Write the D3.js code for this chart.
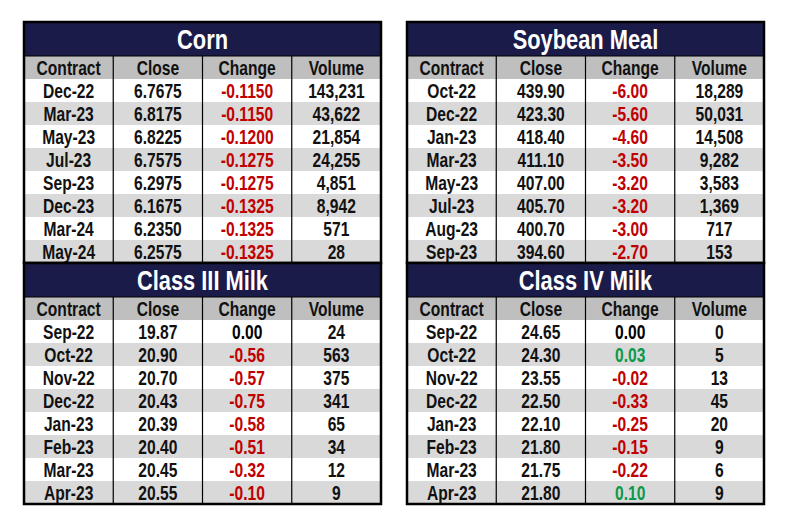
<!DOCTYPE html>
<html>
<head>
<meta charset="utf-8">
<script src="https://d3js.org/d3.v7.min.js"></script>
<style>
  body { margin: 0; background: white; }
  svg text { font-family: "Liberation Sans", Arial, sans-serif; font-weight: bold; }
</style>
</head>
<body>
<svg id="chart" width="790" height="528"></svg>
<script>
// column headers shared by all four tables
var headers = ["Contract", "Close", "Change", "Volume"];

// Corn
var cornTitle = "Corn";
var cornContracts = ["Dec-22", "Mar-23", "May-23", "Jul-23", "Sep-23", "Dec-23", "Mar-24", "May-24"];
var cornClose = ["6.7675", "6.8175", "6.8225", "6.7575", "6.2975", "6.1675", "6.2350", "6.2575"];
var cornChange = ["-0.1150", "-0.1150", "-0.1200", "-0.1275", "-0.1275", "-0.1325", "-0.1325", "-0.1325"];
var cornVolume = ["143,231", "43,622", "21,854", "24,255", "4,851", "8,942", "571", "28"];

// Soybean Meal
var mealTitle = "Soybean Meal";
var mealContracts = ["Oct-22", "Dec-22", "Jan-23", "Mar-23", "May-23", "Jul-23", "Aug-23", "Sep-23"];
var mealClose = ["439.90", "423.30", "418.40", "411.10", "407.00", "405.70", "400.70", "394.60"];
var mealChange = ["-6.00", "-5.60", "-4.60", "-3.50", "-3.20", "-3.20", "-3.00", "-2.70"];
var mealVolume = ["18,289", "50,031", "14,508", "9,282", "3,583", "1,369", "717", "153"];

// Class III Milk
var milk3Title = "Class III Milk";
var milk3Contracts = ["Sep-22", "Oct-22", "Nov-22", "Dec-22", "Jan-23", "Feb-23", "Mar-23", "Apr-23"];
var milk3Close = ["19.87", "20.90", "20.70", "20.43", "20.39", "20.40", "20.45", "20.55"];
var milk3Change = ["0.00", "-0.56", "-0.57", "-0.75", "-0.58", "-0.51", "-0.32", "-0.10"];
var milk3Volume = ["24", "563", "375", "341", "65", "34", "12", "9"];

// Class IV Milk
var milk4Title = "Class IV Milk";
var milk4Contracts = ["Sep-22", "Oct-22", "Nov-22", "Dec-22", "Jan-23", "Feb-23", "Mar-23", "Apr-23"];
var milk4Close = ["24.65", "24.30", "23.55", "22.50", "22.10", "21.80", "21.75", "21.80"];
var milk4Change = ["0.00", "0.03", "-0.02", "-0.33", "-0.25", "-0.15", "-0.22", "0.10"];
var milk4Volume = ["0", "5", "13", "45", "20", "9", "6", "9"];

var svg = d3.select("#chart");
var navy = "#1b1b49";
var headGray = "#bfbfbf";
var stripe = "#d9d9d9";
var squeeze = 0.78; // condensed look

function changeColor(v) {
  var n = parseFloat(v);
  if (n < 0) return "#c00000";
  if (n > 0) return "#0a9a4a";
  return "black";
}

function place(cx, cy) {
  return "translate(" + cx + "," + cy + ") scale(" + squeeze + ",1)";
}

function drawTable(left, top, title, contracts, closes, changes, volumes) {
  var width = 357, titleH = 34, headH = 23, rowH = 23;
  var g = svg.append("g");
  var x = d3.scaleBand().domain(headers).range([left, left + width]);
  var y = d3.scaleBand().domain(d3.range(contracts.length))
    .range([top + titleH + headH, top + titleH + headH + rowH * contracts.length]);
  var bottom = y.range()[1];

  // title band
  g.append("rect").attr("x", left).attr("y", top).attr("width", width).attr("height", titleH)
    .attr("fill", navy);
  g.append("text").text(title)
    .attr("transform", place(left + width / 2, top + titleH / 2 + 10))
    .attr("text-anchor", "middle").attr("fill", "white").style("font-size", "28px");

  // header row
  g.append("rect").attr("x", left).attr("y", top + titleH).attr("width", width).attr("height", headH)
    .attr("fill", headGray);
  g.selectAll(".hd").data(headers).enter().append("text")
    .attr("transform", function(d) { return place(x(d) + x.bandwidth() / 2, top + titleH + headH / 2 + 7.5); })
    .attr("text-anchor", "middle").style("font-size", "20px").attr("fill", "#111")
    .text(function(d) { return d; });

  // striped rows
  var rows = contracts.map(function(c, i) {
    return [c, closes[i], changes[i], volumes[i]];
  });
  var rg = g.selectAll(".row").data(rows).enter().append("g");
  rg.append("rect")
    .attr("x", left).attr("y", function(d, i) { return y(i); })
    .attr("width", width).attr("height", y.bandwidth())
    .attr("fill", function(d, i) { return i % 2 ? stripe : "white"; });
  rg.each(function(row, i) {
    d3.select(this).selectAll("text").data(row).enter().append("text")
      .attr("transform", function(d, j) { return place(x(headers[j]) + x.bandwidth() / 2, y(i) + y.bandwidth() / 2 + 7.5); })
      .attr("text-anchor", "middle").style("font-size", "20px")
      .attr("fill", function(d, j) { return j === 2 ? changeColor(d) : "#111"; })
      .text(function(d) { return d; });
  });

  // column lines
  g.selectAll(".col").data(headers.slice(1)).enter().append("line")
    .attr("x1", function(d) { return x(d); }).attr("x2", function(d) { return x(d); })
    .attr("y1", top + titleH).attr("y2", bottom)
    .attr("stroke", "black").attr("stroke-width", 1.2);
  g.append("line").attr("x1", left).attr("x2", left + width)
    .attr("y1", top + titleH).attr("y2", top + titleH)
    .attr("stroke", "black").attr("stroke-width", 1);

  // outer border
  g.append("rect").attr("x", left).attr("y", top).attr("width", width).attr("height", bottom - top)
    .attr("fill", "none").attr("stroke", "black").attr("stroke-width", 2.5);
  return bottom;
}

var b1 = drawTable(24, 22, cornTitle, cornContracts, cornClose, cornChange, cornVolume);
var b2 = drawTable(407, 22, mealTitle, mealContracts, mealClose, mealChange, mealVolume);
drawTable(24, b1, milk3Title, milk3Contracts, milk3Close, milk3Change, milk3Volume);
drawTable(407, b2, milk4Title, milk4Contracts, milk4Close, milk4Change, milk4Volume);
</script>
</body>
</html>
